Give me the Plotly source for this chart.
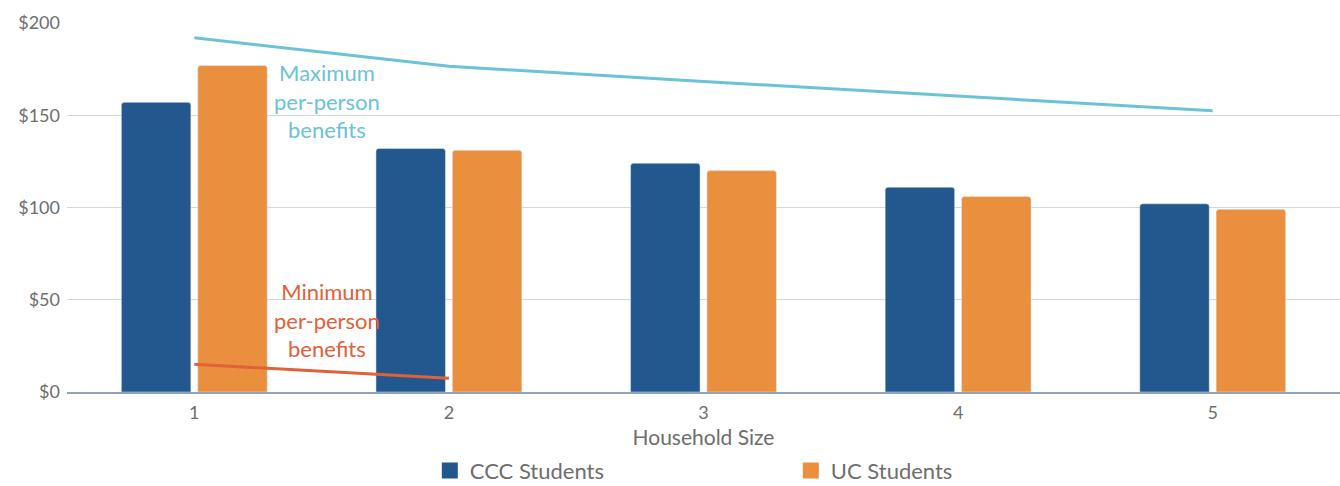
import plotly.graph_objects as go

household_size = [1, 2, 3, 4, 5]
ccc_students = [157, 132, 124, 111, 102]
uc_students = [177, 131, 120, 106, 99]

max_benefit_size = [1, 2, 3, 4, 5]
max_benefit = [192, 176.5, 168.3, 160.5, 152.4]

min_benefit_size = [1, 2]
min_benefit = [15, 7.5]

y_ticks = [0, 50, 100, 150, 200]
y_tick_labels = ["$0", "$50", "$100", "$150", "$200"]

BLUE = "#23588F"
ORANGE = "#E98F3E"
LIGHT_BLUE = "#6CC2D8"
RED_ORANGE = "#E2603A"
TEXT = "#6E6E6E"
FONT = "Lato, 'Open Sans', sans-serif"

fig = go.Figure()

fig.add_trace(go.Bar(
    x=household_size, y=ccc_students, name="CCC Students",
    marker=dict(color=BLUE), showlegend=False,
))
fig.add_trace(go.Bar(
    x=household_size, y=uc_students, name="UC Students",
    marker=dict(color=ORANGE), showlegend=False,
))

fig.add_trace(go.Scatter(
    x=max_benefit_size, y=max_benefit, mode="lines",
    line=dict(color=LIGHT_BLUE, width=3), showlegend=False, hoverinfo="skip",
))
fig.add_trace(go.Scatter(
    x=min_benefit_size, y=min_benefit, mode="lines",
    line=dict(color=RED_ORANGE, width=3), showlegend=False, hoverinfo="skip",
))

# legend entries with larger square swatches
for name, color in [("CCC Students", BLUE), ("UC Students", ORANGE)]:
    fig.add_trace(go.Scatter(
        x=[None], y=[None], mode="markers", name=name,
        marker=dict(symbol="square", size=16, color=color),
    ))

fig.add_annotation(
    x=1.52, y=157.5, xref="x", yref="y", showarrow=False,
    text="Maximum<br>per-person<br>benefits",
    font=dict(family=FONT, size=22, color=LIGHT_BLUE), align="center",
)
fig.add_annotation(
    x=1.52, y=39, xref="x", yref="y", showarrow=False,
    text="Minimum<br>per-person<br>benefits",
    font=dict(family=FONT, size=22, color=RED_ORANGE), align="center",
)

fig.update_layout(
    width=1340, height=486,
    margin=dict(l=67, r=0, t=23, b=94, autoexpand=False),
    paper_bgcolor="white", plot_bgcolor="white",
    font=dict(family=FONT, size=18, color=TEXT),
    barmode="group", bargap=0.40, bargroupgap=0.09,
    barcornerradius=3,
    xaxis=dict(
        range=[0.5, 5.5], tickvals=household_size,
        ticktext=[str(v) for v in household_size],
        showgrid=False, showline=True, linecolor="#8FA3BC", linewidth=1.5,
        ticks="", tickfont=dict(size=18, color=TEXT), ticklabelstandoff=4,
        title=dict(text="Household Size", font=dict(size=21, color=TEXT), standoff=8),
        zeroline=False,
    ),
    yaxis=dict(
        range=[0, 200], tickvals=y_ticks, ticktext=y_tick_labels,
        showgrid=True, gridcolor="#D3D8DF", gridwidth=1,
        zeroline=False, showline=False, ticks="",
        tickfont=dict(size=18, color=TEXT), ticklabelstandoff=6,
    ),
    legend=dict(
        orientation="h", x=0.285, xanchor="left", y=-0.27, yanchor="bottom",
        font=dict(size=22, color=TEXT), entrywidth=316, itemwidth=30,
    ),
)

fig.write_html("out.html")
